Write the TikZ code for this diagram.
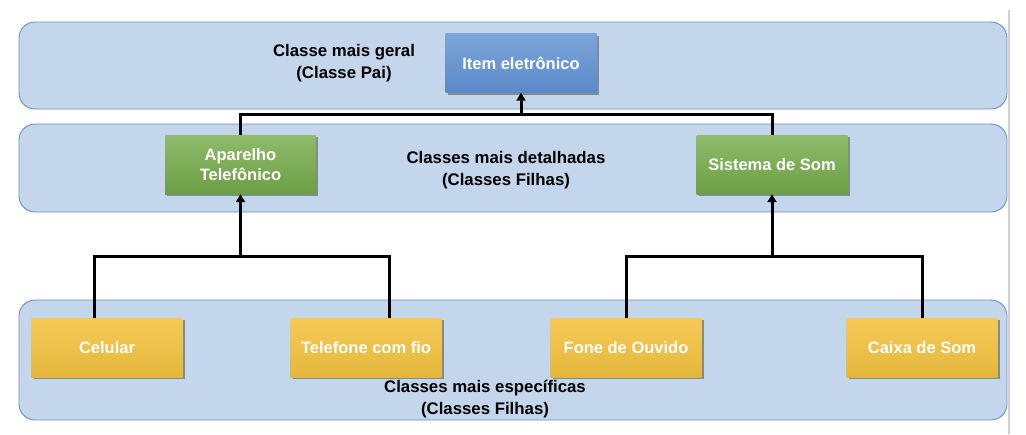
\documentclass[tikz,border=0pt]{standalone}
\usepackage{fontspec}
\setmainfont{Liberation Sans}
\usetikzlibrary{shadows,arrows.meta}
\definecolor{bandfill}{HTML}{C3D6EB}
\definecolor{banddraw}{HTML}{6F8FBF}
\definecolor{blueT}{HTML}{7DA5DA}
\definecolor{blueB}{HTML}{5A8AC8}
\definecolor{greenT}{HTML}{8FBB6A}
\definecolor{greenB}{HTML}{6C9F45}
\definecolor{yelT}{HTML}{F6CA58}
\definecolor{yelB}{HTML}{E4B73B}
\tikzset{
  band/.style={draw=banddraw, line width=0.9pt, fill=bandfill, rounded corners=16pt},
  cls/.style={minimum width=151pt, minimum height=59pt, inner sep=0pt, align=center,
    text=white, font=\fontsize{16.5}{19.5}\selectfont\bfseries,
    drop shadow={shadow xshift=2pt, shadow yshift=-2pt, opacity=0.35, fill=black}},
  bluecls/.style={cls, top color=blueT, bottom color=blueB},
  greencls/.style={cls, top color=greenT, bottom color=greenB},
  yelcls/.style={cls, top color=yelT, bottom color=yelB},
  lbl/.style={align=center, font=\fontsize{16.8}{22}\selectfont\bfseries, text=black},
  conn/.style={line width=3pt, black},
  arr/.style={conn, -{Triangle[length=8pt,width=9pt]}}
}
\begin{document}
\begin{tikzpicture}[x=1pt,y=-1pt]
\useasboundingbox (0,0) rectangle (1026,434);
\draw[line width=1.2pt, draw={rgb,255:red,208;green,208;blue,208}] (1009,10) -- (1009,434);
% bands
\draw[band] (19,22) rectangle (1007,109);
\draw[band] (19,124) rectangle (1007,212);
\draw[band] (19,300) rectangle (1007,420);
% nodes
\node[bluecls] (item) at (521,63) {Item eletrônico};
\node[greencls] (apar) at (240.5,164.5) {Aparelho\\Telefônico};
\node[greencls] (som) at (772,164.5) {Sistema de Som};
\node[yelcls] (cel) at (107,347.5) {Celular};
\node[yelcls] (tel) at (366,347.5) {Telefone com fio};
\node[yelcls] (fone) at (626,347.5) {Fone de Ouvido};
\node[yelcls] (caixa) at (922,347.5) {Caixa de Som};
% labels
\node[lbl] (l1) at (344,63) {Classe mais geral\\(Classe Pai)};
\node[lbl] (l2) at (506,170) {Classes mais detalhadas\\(Classes Filhas)};
\node[lbl] (l3) at (485,399) {Classes mais específicas\\(Classes Filhas)};
% connectors
\coordinate (j1) at (521,114);
\coordinate (j2) at (240.5,256);
\coordinate (j3) at (772,256);
\draw[conn] (apar.north) |- (j1) -| (som.north);
\draw[arr] (j1) -- (item.south);
\draw[conn] ([xshift=-13pt]cel.north) |- (j2) -| ([xshift=23pt]tel.north);
\draw[arr] (j2) -- (apar.south);
\draw[conn] (fone.north) |- (j3) -| (caixa.north);
\draw[arr] (j3) -- (som.south);
\end{tikzpicture}
\end{document}
